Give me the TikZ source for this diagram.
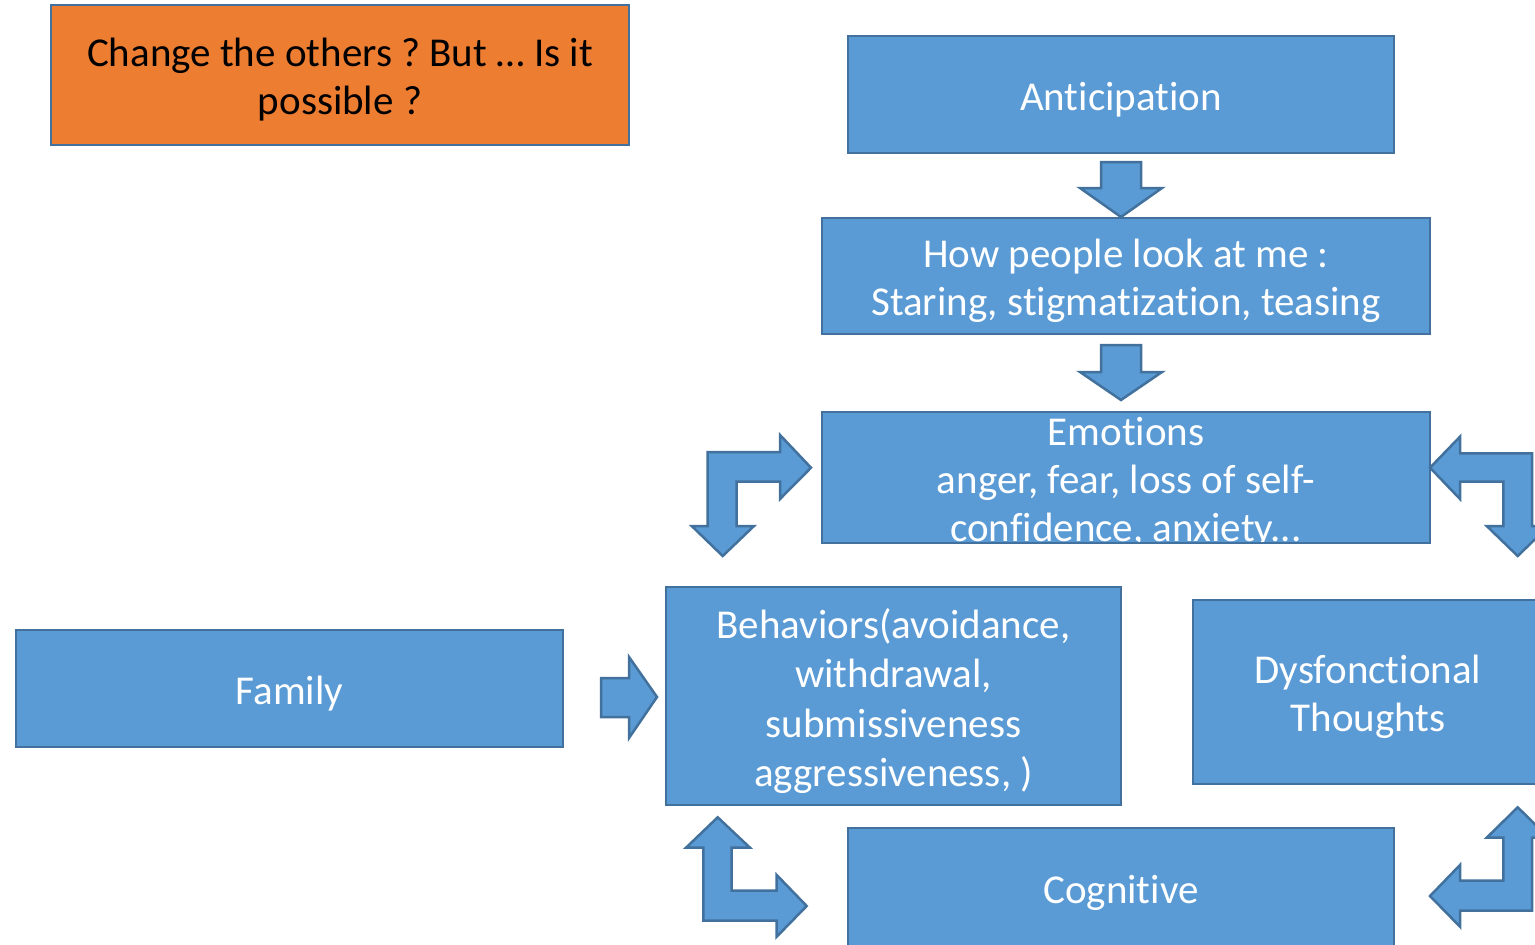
\documentclass[tikz,border=0pt]{standalone}
\usepackage{fontspec}
\setmainfont{Carlito}[Ligatures=NoCommon]
\frenchspacing
\definecolor{boxfill}{HTML}{5B9BD5}
\definecolor{boxline}{HTML}{41719C}
\definecolor{orangefill}{HTML}{ED7D31}

\begin{document}
\begin{tikzpicture}[x=1pt,y=-1pt,
  box/.style={draw=boxline, fill=boxfill, line width=2.5pt, inner sep=0pt},
  txt/.style={inner sep=0pt, text=white, align=center, yshift=-5pt,
    font=\fontsize{41}{48}\selectfont},
  blockarrow/.style={draw=boxline, fill=boxfill, line width=2.5pt, line join=miter}]
\useasboundingbox (0,0) rectangle (1535,945);
\clip (0,0) rectangle (1535,945);

% title box
\node[box, fill=orangefill, minimum width=578pt, minimum height=140pt] (question) at (340,75) {};
\node[txt, text=black] (question-t) at (question.center) {Change the others ? But … Is it\\possible ?};

% main chain
\node[box, minimum width=546pt, minimum height=117pt] (antic) at (1121,94.5) {};
\node[txt] (antic-t) at (antic.center) {Anticipation};

\node[box, minimum width=608pt, minimum height=116pt] (look) at (1126,276) {};
\node[txt] (look-t) at (look.center) {How people look at me :\\Staring, stigmatization, teasing};

\node[fill=boxfill, inner sep=0pt, minimum width=608pt, minimum height=131pt] (emo) at (1126,477.5) {};
\begin{scope}
  \clip (emo.south west) rectangle (emo.north east);
  \node[txt] (emo-t) at (emo.center) {Emotions\\anger, fear, loss of self-\\confidence, anxiety...};
\end{scope}
\draw[boxline, line width=2.5pt] (emo.south west) rectangle (emo.north east);

\node[box, minimum width=547pt, minimum height=117pt] (family) at (289.5,688.5) {};
\node[txt] (family-t) at (family.center) {Family};

\node[box, minimum width=455pt, minimum height=218pt] (behav) at (893.5,696) {};
\node[txt, font=\fontsize{41}{49.5}\selectfont] (behav-t) at (behav.center)
  {Behaviors(avoidance,\\withdrawal,\\submissiveness\\aggressiveness, )};

\node[box, minimum width=350pt, minimum height=184pt] (dysf) at (1368,692) {};
\node[txt] (dysf-t) at (dysf.center) {Dysfonctional\\Thoughts};

\node[box, minimum width=546pt, minimum height=120pt] (cogn) at (1121,888) {};
\node[txt] (cogn-t) at (cogn.center) {Cognitive};

% straight block arrows
\draw[blockarrow] (1101,162) -- (1141,162) -- (1141,188) -- (1162,188) -- (1121,217)
  -- (1080,188) -- (1101,188) -- cycle;
\draw[blockarrow] (1101,345) -- (1141,345) -- (1141,372) -- (1162,372) -- (1121,400)
  -- (1080,372) -- (1101,372) -- cycle;
\draw[blockarrow] (601,678) -- (629,678) -- (629,657) -- (657,697) -- (629,738)
  -- (629,717) -- (601,717) -- cycle;

% bent block arrows
\draw[blockarrow] (707.7,526) -- (707.7,452) -- (780,452) -- (780,435) -- (811,467.7)
  -- (780,499) -- (780,481.7) -- (736.7,481.7) -- (736.7,526) -- (754,526)
  -- (722.7,556) -- (691.7,526) -- cycle;
\draw[blockarrow] (1430,467.7) -- (1460,436.7) -- (1460,453.3) -- (1532,453.3)
  -- (1532,526) -- (1548.7,526) -- (1517.7,556) -- (1486.7,526) -- (1503.3,526)
  -- (1503.3,481.7) -- (1460,481.7) -- (1460,499) -- cycle;
\draw[blockarrow] (717.7,817.3) -- (750,847.7) -- (731.7,847.7) -- (731.7,890.7)
  -- (776.7,890.7) -- (776.7,875) -- (806.7,906) -- (776.7,936.7) -- (776.7,920.7)
  -- (703.3,920.7) -- (703.3,847.7) -- (686,847.7) -- cycle;
\draw[blockarrow] (1517.7,807.3) -- (1548.7,837.7) -- (1532,837.7) -- (1532,910.7)
  -- (1460,910.7) -- (1460,926.7) -- (1430,896) -- (1460,865) -- (1460,880.7)
  -- (1503.3,880.7) -- (1503.3,837.7) -- (1486.7,837.7) -- cycle;
\end{tikzpicture}
\end{document}
